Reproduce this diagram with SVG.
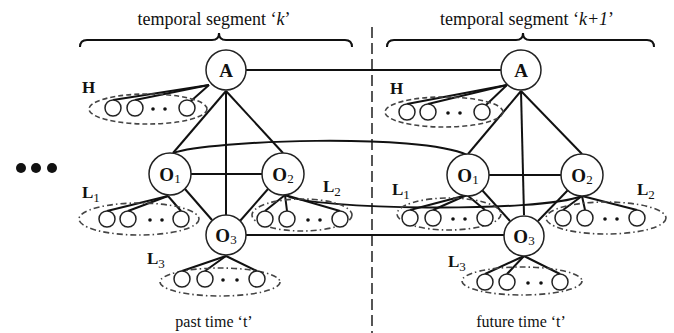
<svg xmlns="http://www.w3.org/2000/svg" width="674" height="333" viewBox="0 0 674 333">
<style>
  .ln{stroke:#111;stroke-width:2;fill:none}
  .node{fill:#fff;stroke:#222;stroke-width:1.5}
  .leaf{fill:#fff;stroke:#222;stroke-width:1.5}
  .dot{fill:#111}
  .hell{fill:none;stroke:#444;stroke-width:1.6;stroke-dasharray:5 3}
  .lell{fill:none;stroke:#444;stroke-width:1.6;stroke-dasharray:6 3 1.5 3}
  .nl{font-family:"Liberation Serif",serif;font-weight:bold;font-size:19px;fill:#111;text-anchor:middle}
  .sub{font-weight:normal;font-size:13px}
  .lab{font-family:"Liberation Serif",serif;font-weight:bold;font-size:17px;fill:#111}
  .cap{font-family:"Liberation Serif",serif;fill:#111;text-anchor:middle}
  .br{stroke:#111;stroke-width:2;fill:none}
</style>

<!-- header captions and brackets -->
<text class="cap" x="214" y="25" font-size="18">temporal segment ‘<tspan font-style="italic">k</tspan>’</text>
<text class="cap" x="527" y="25" font-size="18">temporal segment ‘<tspan font-style="italic">k+1</tspan>’</text>
<path class="br" d="M80,47 Q80,40 87,40 L212,40 Q219,40 219,33 Q219,40 226,40 L345,40 Q352,40 352,47"/>
<path class="br" d="M387,47 Q387,40 394,40 L516,40 Q523,40 523,33 Q523,40 530,40 L647,40 Q654,40 654,47"/>
<line x1="372" y1="27" x2="372" y2="333" stroke="#444" stroke-width="1.8" stroke-dasharray="11 5"/>
<text class="cap" x="214" y="327" font-size="16">past time ‘t’</text>
<text class="cap" x="521" y="327" font-size="16">future time ‘t’</text>

<g id="ellipsis">
  <circle class="dot" cx="21" cy="168" r="5"/>
  <circle class="dot" cx="36" cy="168" r="5"/>
  <circle class="dot" cx="52" cy="168" r="5"/>
</g>

<!-- connectors -->
<g id="connectors">
  <!-- cross-segment -->
  <line class="ln" x1="246" y1="70" x2="501" y2="70"/>
  <path class="ln" d="M173,153 C210,140 420,133 467,155"/>
  <path class="ln" d="M285,195 C310,210 540,213 582,196"/>
  <line class="ln" x1="246" y1="235" x2="504" y2="235"/>
  <!-- segment k -->
  <line class="ln" x1="226" y1="91" x2="173" y2="153"/>
  <line class="ln" x1="226" y1="91" x2="283" y2="153"/>
  <line class="ln" x1="226" y1="91" x2="226" y2="215"/>
  <line class="ln" x1="191" y1="174" x2="262" y2="174"/>
  <line class="ln" x1="185" y1="189" x2="212" y2="220"/>
  <line class="ln" x1="268" y1="189" x2="240" y2="221"/>
  <line class="ln" x1="209" y1="85" x2="113" y2="100"/>
  <line class="ln" x1="209" y1="85" x2="135" y2="100"/>
  <line class="ln" x1="209" y1="85" x2="191" y2="101"/>
  <line class="ln" x1="168" y1="196" x2="107" y2="211"/>
  <line class="ln" x1="168" y1="196" x2="128" y2="211"/>
  <line class="ln" x1="168" y1="196" x2="181" y2="211"/>
  <line class="ln" x1="285" y1="195" x2="265" y2="211"/>
  <line class="ln" x1="285" y1="195" x2="287" y2="211"/>
  <line class="ln" x1="285" y1="195" x2="340" y2="211"/>
  <line class="ln" x1="226" y1="256" x2="182" y2="271"/>
  <line class="ln" x1="226" y1="256" x2="205" y2="271"/>
  <line class="ln" x1="226" y1="256" x2="257" y2="271"/>
  <!-- segment k+1 -->
  <line class="ln" x1="521" y1="91" x2="468" y2="154"/>
  <line class="ln" x1="521" y1="91" x2="582" y2="154"/>
  <line class="ln" x1="521" y1="91" x2="524" y2="215"/>
  <line class="ln" x1="489" y1="175" x2="561" y2="175"/>
  <line class="ln" x1="482" y1="190" x2="510" y2="221"/>
  <line class="ln" x1="568" y1="190" x2="538" y2="221"/>
  <line class="ln" x1="507" y1="85" x2="407" y2="104"/>
  <line class="ln" x1="507" y1="85" x2="428" y2="104"/>
  <line class="ln" x1="507" y1="85" x2="486" y2="105"/>
  <line class="ln" x1="467" y1="195" x2="410" y2="210"/>
  <line class="ln" x1="467" y1="195" x2="433" y2="210"/>
  <line class="ln" x1="467" y1="195" x2="485" y2="210"/>
  <line class="ln" x1="582" y1="196" x2="563" y2="210"/>
  <line class="ln" x1="582" y1="196" x2="585" y2="210"/>
  <line class="ln" x1="582" y1="196" x2="637" y2="210"/>
  <line class="ln" x1="524" y1="256" x2="485" y2="274"/>
  <line class="ln" x1="524" y1="256" x2="507" y2="274"/>
  <line class="ln" x1="524" y1="256" x2="560" y2="274"/>
</g>

<!-- segment k nodes -->
<g id="A_k"><circle class="node" cx="226" cy="70" r="20"/><text class="nl" x="226" y="77">A</text></g>
<g id="O1_k"><circle class="node" cx="170" cy="174" r="21"/><text class="nl" x="170" y="181">O<tspan class="sub" dy="2">1</tspan></text></g>
<g id="O2_k"><circle class="node" cx="283" cy="174" r="21"/><text class="nl" x="283" y="181">O<tspan class="sub" dy="2">2</tspan></text></g>
<g id="O3_k"><circle class="node" cx="226" cy="235" r="20"/><text class="nl" x="226" y="242">O<tspan class="sub" dy="2">3</tspan></text></g>
<g id="H_k">
  <ellipse class="hell" cx="148" cy="109" rx="59" ry="15"/>
  <circle class="leaf" cx="113" cy="108" r="8"/><circle class="leaf" cx="135" cy="108" r="8"/><circle class="leaf" cx="187" cy="108" r="8"/>
  <circle class="dot" cx="153" cy="109" r="1.8"/><circle class="dot" cx="165" cy="109" r="1.8"/>
  <text class="lab" x="82" y="93">H</text>
</g>
<g id="L1_k">
  <ellipse class="lell" cx="139" cy="219" rx="60" ry="16"/>
  <circle class="leaf" cx="107" cy="219" r="8"/><circle class="leaf" cx="128" cy="219" r="8"/><circle class="leaf" cx="181" cy="219" r="8"/>
  <circle class="dot" cx="150" cy="220" r="1.8"/><circle class="dot" cx="162" cy="220" r="1.8"/>
  <text class="lab" x="82" y="198">L<tspan class="sub" dy="4">1</tspan></text>
</g>
<g id="L2_k">
  <ellipse class="lell" cx="302" cy="215" rx="50" ry="16"/>
  <circle class="leaf" cx="265" cy="219" r="8"/><circle class="leaf" cx="287" cy="219" r="8"/><circle class="leaf" cx="340" cy="219" r="8"/>
  <circle class="dot" cx="308" cy="220" r="1.8"/><circle class="dot" cx="320" cy="220" r="1.8"/>
  <text class="lab" x="323" y="192">L<tspan class="sub" dy="4">2</tspan></text>
</g>
<g id="L3_k">
  <ellipse class="lell" cx="220" cy="282" rx="60" ry="14"/>
  <circle class="leaf" cx="182" cy="279" r="8"/><circle class="leaf" cx="205" cy="279" r="8"/><circle class="leaf" cx="257" cy="279" r="8"/>
  <circle class="dot" cx="223" cy="280" r="1.8"/><circle class="dot" cx="237" cy="280" r="1.8"/>
  <text class="lab" x="147" y="264">L<tspan class="sub" dy="4">3</tspan></text>
</g>

<!-- segment k+1 nodes -->
<g id="A_k1"><circle class="node" cx="521" cy="70" r="20"/><text class="nl" x="521" y="77">A</text></g>
<g id="O1_k1"><circle class="node" cx="468" cy="175" r="21"/><text class="nl" x="468" y="182">O<tspan class="sub" dy="2">1</tspan></text></g>
<g id="O2_k1"><circle class="node" cx="582" cy="175" r="21"/><text class="nl" x="582" y="182">O<tspan class="sub" dy="2">2</tspan></text></g>
<g id="O3_k1"><circle class="node" cx="524" cy="236" r="20"/><text class="nl" x="524" y="243">O<tspan class="sub" dy="2">3</tspan></text></g>
<g id="H_k1">
  <ellipse class="hell" cx="444" cy="112" rx="59" ry="15"/>
  <circle class="leaf" cx="407" cy="112" r="8"/><circle class="leaf" cx="428" cy="112" r="8"/><circle class="leaf" cx="482" cy="112" r="8"/>
  <circle class="dot" cx="448" cy="113" r="1.8"/><circle class="dot" cx="460" cy="113" r="1.8"/>
  <text class="lab" x="390" y="94">H</text>
</g>
<g id="L1_k1">
  <ellipse class="lell" cx="449" cy="214" rx="52" ry="16"/>
  <circle class="leaf" cx="410" cy="218" r="8"/><circle class="leaf" cx="433" cy="218" r="8"/><circle class="leaf" cx="485" cy="218" r="8"/>
  <circle class="dot" cx="453" cy="219" r="1.8"/><circle class="dot" cx="465" cy="219" r="1.8"/>
  <text class="lab" x="392" y="195">L<tspan class="sub" dy="4">1</tspan></text>
</g>
<g id="L2_k1">
  <ellipse class="lell" cx="606" cy="218" rx="60" ry="16"/>
  <circle class="leaf" cx="563" cy="218" r="8"/><circle class="leaf" cx="585" cy="218" r="8"/><circle class="leaf" cx="637" cy="218" r="8"/>
  <circle class="dot" cx="605" cy="219" r="1.8"/><circle class="dot" cx="617" cy="219" r="1.8"/>
  <text class="lab" x="637" y="195">L<tspan class="sub" dy="4">2</tspan></text>
</g>
<g id="L3_k1">
  <ellipse class="lell" cx="522" cy="281" rx="60" ry="14"/>
  <circle class="leaf" cx="485" cy="282" r="8"/><circle class="leaf" cx="507" cy="282" r="8"/><circle class="leaf" cx="560" cy="282" r="8"/>
  <circle class="dot" cx="528" cy="283" r="1.8"/><circle class="dot" cx="541" cy="283" r="1.8"/>
  <text class="lab" x="448" y="267">L<tspan class="sub" dy="4">3</tspan></text>
</g>
</svg>
